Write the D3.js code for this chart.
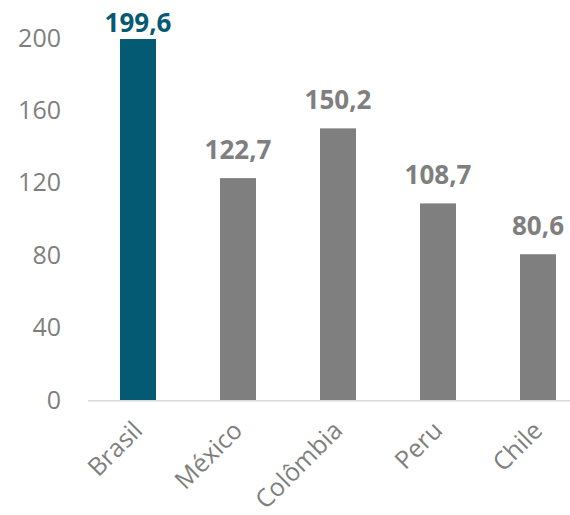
<!DOCTYPE html>
<html>
<head>
<meta charset="utf-8">
<script src="https://cdn.jsdelivr.net/npm/d3@7"></script>
<style>
  html, body { margin: 0; padding: 0; background: #fff; }
  svg { display: block; }
</style>
</head>
<body>
<script>
// Country values
const categories = ["Brasil", "México", "Colômbia", "Peru", "Chile"];
const values = [199.6, 122.7, 150.2, 108.7, 80.6];
const valueLabels = ["199,6", "122,7", "150,2", "108,7", "80,6"];
const yTicks = [0, 40, 80, 120, 160, 200];
const highlight = "Brasil";

const W = 570, H = 515;
const svg = d3.select("body").append("svg").attr("width", W).attr("height", H);

const x = d3.scaleBand().domain(categories).range([88, 588]).paddingInner(0.64).paddingOuter(0.32);
const y = d3.scaleLinear().domain([0, 200]).range([400, 38.3]);

const grey = "#7f7f7f";
const blue = "#045a73";

// y-axis tick labels (no axis line)
const yAxis = svg.append("g").attr("transform", "translate(61,0)")
  .call(d3.axisLeft(y).tickValues(yTicks).tickSize(0).tickPadding(0).tickFormat(d3.format("d")));
yAxis.select(".domain").remove();
yAxis.selectAll("text")
  .attr("fill", grey)
  .style("font-family", "'Open Sans', sans-serif")
  .style("font-size", "25px");

// bars
svg.append("g").selectAll("rect")
  .data(categories)
  .join("rect")
  .attr("x", d => x(d))
  .attr("width", x.bandwidth())
  .attr("y", (d, i) => y(values[i]))
  .attr("height", (d, i) => y(0) - y(values[i]))
  .attr("fill", d => d === highlight ? blue : grey);

// baseline
svg.append("line")
  .attr("x1", 88).attr("x2", W)
  .attr("y1", y(0) + 0.75).attr("y2", y(0) + 0.75)
  .attr("stroke", "#d9d9d9").attr("stroke-width", 1.5);

// value labels; kept inside the top of the plot area
svg.append("g").selectAll("text")
  .data(categories)
  .join("text")
  .attr("x", d => x(d) + x.bandwidth() / 2)
  .attr("y", (d, i) => Math.max(32, y(values[i]) - 19))
  .attr("text-anchor", "middle")
  .attr("fill", d => d === highlight ? blue : grey)
  .style("font-family", "'Open Sans', sans-serif")
  .style("font-weight", "bold")
  .style("font-size", "26px")
  .text((d, i) => valueLabels[i]);

// rotated category labels
const xAxis = svg.append("g").attr("transform", `translate(0,${y(0)})`)
  .call(d3.axisBottom(x).tickSize(0).tickPadding(0));
xAxis.select(".domain").remove();
xAxis.selectAll("text")
  .attr("fill", grey)
  .attr("text-anchor", "end")
  .attr("dy", 0)
  .attr("transform", "translate(6,32) rotate(-45)")
  .style("font-family", "'Open Sans', sans-serif")
  .style("font-size", "25px");
</script>
</body>
</html>
